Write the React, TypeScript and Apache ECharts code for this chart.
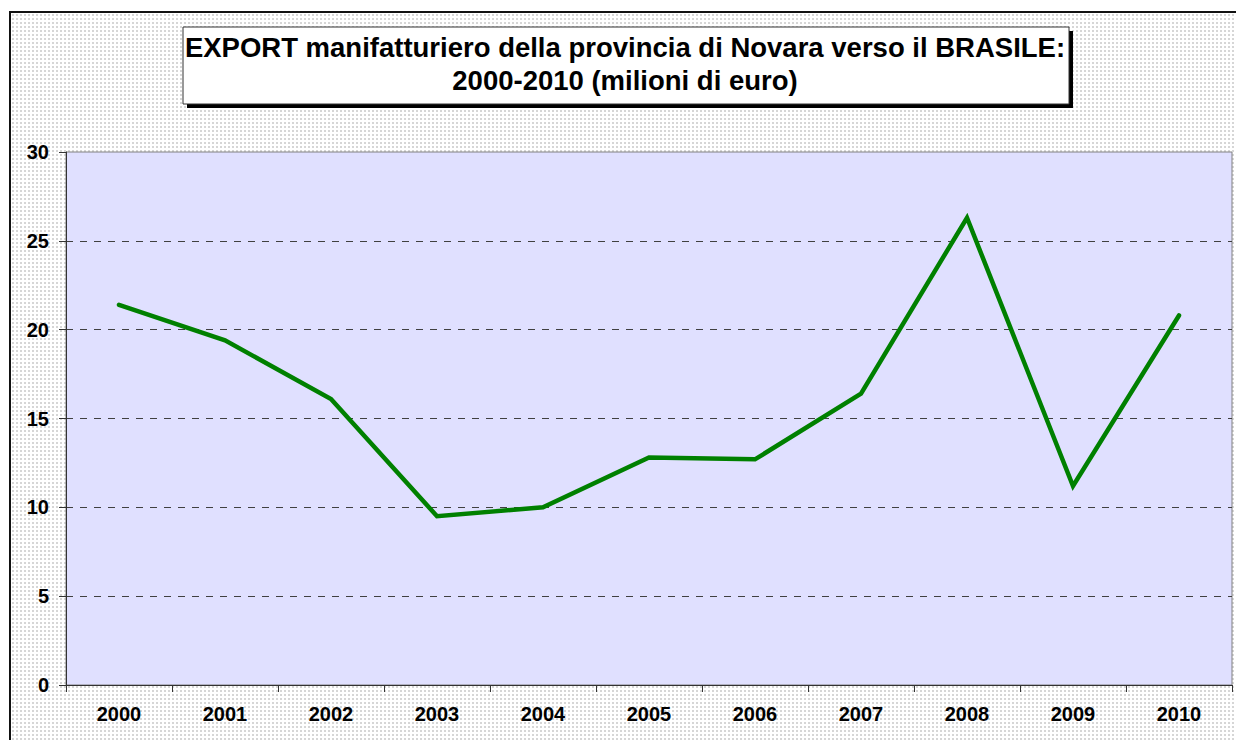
import React, { useEffect, useRef } from "react";
import * as echarts from "echarts";

const years = ["2000", "2001", "2002", "2003", "2004", "2005", "2006", "2007", "2008", "2009", "2010"];
const exportValues = [21.4, 19.4, 16.1, 9.5, 10.0, 12.8, 12.7, 16.4, 26.3, 11.2, 20.8];
const titleLines = [
  "EXPORT manifatturiero della provincia di Novara verso il BRASILE:",
  "2000-2010 (milioni di euro)",
];

const FONT = '"Liberation Sans", Arial, Helvetica, sans-serif';

export default function App() {
  const ref = useRef<HTMLDivElement>(null);

  useEffect(() => {
    if (!ref.current) return;
    const chart = echarts.init(ref.current, undefined, { renderer: "svg" });
    const grid = "#404040";
    chart.setOption({
      animation: false,
      backgroundColor: "transparent",
      grid: {
        left: 66,
        top: 152,
        right: 4,
        bottom: 55,
        show: true,
        backgroundColor: "#E0E0FF",
        borderColor: "#808080",
        borderWidth: 1,
      },
      xAxis: {
        type: "category",
        data: years,
        boundaryGap: true,
        axisLine: { lineStyle: { color: "#333333", width: 1 } },
        axisTick: { show: true, interval: 0, length: 7, lineStyle: { color: "#333333" } },
        axisLabel: {
          interval: 0,
          margin: 19,
          color: "#000",
          fontWeight: "bold",
          fontSize: 20,
          fontFamily: FONT,
        },
        splitLine: { show: false },
      },
      yAxis: {
        type: "value",
        min: 0,
        max: 30,
        interval: 5,
        axisLine: { show: true, lineStyle: { color: "#333333", width: 1 } },
        axisTick: { show: true, length: 7, lineStyle: { color: "#333333" } },
        axisLabel: {
          margin: 17,
          color: "#000",
          fontWeight: "bold",
          fontSize: 20,
          fontFamily: FONT,
        },
        splitLine: {
          show: true,
          lineStyle: {
            type: [7, 7],
            width: 1,
            color: ["rgba(0,0,0,0)", grid, grid, grid, grid, grid, "rgba(0,0,0,0)"],
          },
        },
      },
      series: [
        {
          type: "line",
          data: exportValues,
          symbol: "none",
          lineStyle: { color: "#008000", width: 4.5, cap: "round", join: "miter" },
          z: 5,
        },
      ],
      graphic: [
        {
          type: "rect",
          shape: { x: 187, y: 31, width: 886, height: 77 },
          style: { fill: "#000" },
          silent: true,
          z: 10,
        },
        {
          type: "rect",
          shape: { x: 183, y: 27, width: 886, height: 77 },
          style: { fill: "#ffffff", stroke: "#333333", lineWidth: 1 },
          silent: true,
          z: 11,
        },
        {
          type: "text",
          x: 625,
          y: 64,
          style: {
            text: titleLines.join("\n"),
            align: "center",
            verticalAlign: "middle",
            font: `bold 27.5px ${FONT}`,
            lineHeight: 33,
            fill: "#000",
          },
          silent: true,
          z: 12,
        },
      ],
    });
    return () => chart.dispose();
  }, []);

  const dots = "radial-gradient(circle, #d6d6d6 0.8px, rgba(255,255,255,0) 1.2px)";

  return (
    <div
      style={{
        position: "absolute",
        left: 0,
        top: 0,
        width: 1236,
        height: 740,
        background: "#ffffff",
        overflow: "hidden",
      }}
    >
      <div
        style={{
          position: "absolute",
          left: 9,
          top: 11,
          width: 1240,
          height: 740,
          borderLeft: "2px solid #111",
          borderTop: "2px solid #111",
          backgroundColor: "#ffffff",
          backgroundImage: dots,
          backgroundSize: "4px 4px",
          backgroundPosition: "0 0",
        }}
      />
      <div ref={ref} style={{ position: "absolute", left: 0, top: 0, width: 1236, height: 740 }} />
    </div>
  );
}
